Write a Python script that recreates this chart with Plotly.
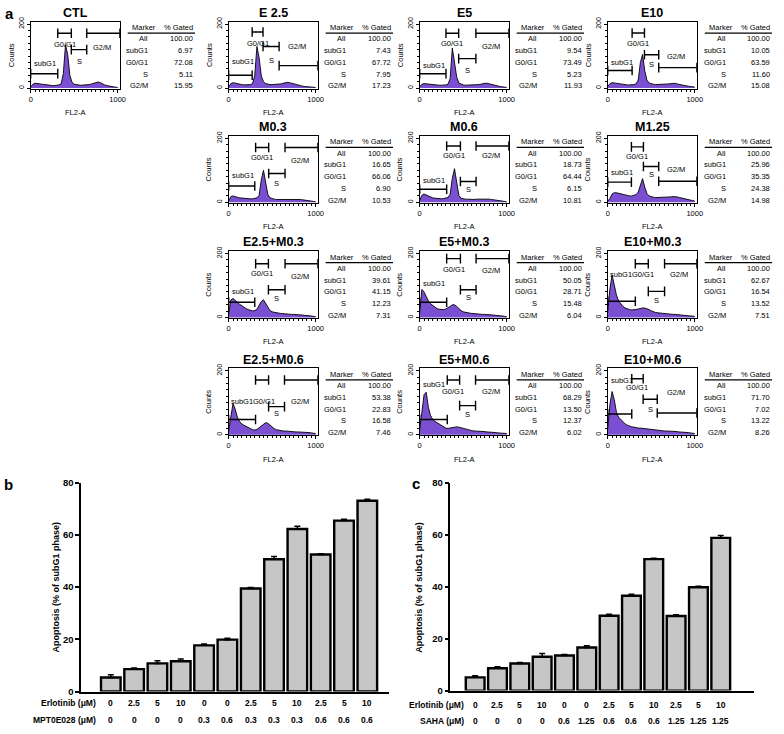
import plotly.graph_objects as go

W, H = 784, 734
FONT = "Liberation Sans, Arial, sans-serif"
PURPLE = "#7b4fd2"
GREY = "#c6c6c6"

# ---------------- panel a : cell cycle histograms ----------------
panel_names = ["CTL", "E 2.5", "E5", "E10", "M0.3", "M0.6", "M1.25",
               "E2.5+M0.3", "E5+M0.3", "E10+M0.3", "E2.5+M0.6", "E5+M0.6", "E10+M0.6"]

fl2_a = [0, 25, 50, 75, 100, 125, 150, 175, 200, 225, 250, 275, 300, 325, 350,
         375, 400, 425, 450, 475, 500, 525, 550, 575, 600, 625, 650, 675, 700,
         725, 750, 775, 800, 825, 850, 875, 900, 925, 950, 975, 1000]

counts_ctl = [4, 12, 15, 14, 12, 11, 10, 10, 9, 9, 8, 8, 9, 10, 14, 45, 135, 105, 40, 18,
              12, 10, 10, 9, 9, 10, 10, 11, 13, 15, 18, 19, 17, 13, 10, 8, 6, 5, 4, 3, 2]
counts_e25 = [4, 14, 17, 15, 13, 12, 11, 10, 10, 10, 11, 14, 40, 130, 95, 38, 20, 14, 12, 11,
              11, 11, 11, 12, 13, 15, 17, 18, 17, 15, 12, 10, 8, 7, 6, 5, 4, 4, 3, 3, 2]
counts_e5 = [4, 12, 14, 13, 12, 11, 10, 10, 9, 9, 9, 9, 10, 12, 30, 125, 85, 35, 16, 12,
             10, 9, 9, 9, 9, 10, 10, 11, 12, 14, 15, 15, 13, 11, 9, 7, 6, 5, 4, 3, 2]
counts_e10 = [5, 14, 17, 16, 14, 12, 11, 10, 10, 10, 10, 10, 11, 13, 25, 80, 105, 55, 25, 16,
              13, 12, 11, 11, 11, 11, 12, 12, 13, 14, 15, 15, 13, 11, 9, 8, 7, 6, 5, 4, 3]
counts_m03 = [5, 18, 20, 19, 16, 14, 13, 12, 11, 11, 11, 11, 12, 14, 22, 70, 100, 60, 25, 14,
              11, 10, 9, 9, 9, 9, 9, 10, 10, 11, 11, 11, 10, 9, 8, 7, 6, 5, 4, 3, 2]
counts_m06 = [6, 22, 26, 23, 19, 16, 14, 13, 12, 11, 11, 12, 13, 15, 25, 75, 105, 55, 22, 13,
              11, 10, 10, 9, 9, 9, 10, 10, 11, 12, 12, 11, 10, 9, 8, 7, 6, 5, 4, 3, 2]
counts_m125 = [4, 12, 26, 30, 30, 28, 26, 24, 22, 21, 20, 20, 21, 24, 32, 55, 74, 48, 28, 20,
               17, 16, 15, 15, 15, 15, 15, 16, 16, 17, 18, 18, 17, 15, 13, 11, 10, 8, 7, 6, 4]
counts_e25m03 = [10, 55, 60, 55, 48, 42, 37, 32, 28, 25, 22, 21, 22, 26, 38, 50, 56, 46, 32, 22,
                 18, 16, 15, 14, 13, 12, 12, 11, 11, 10, 10, 10, 9, 9, 8, 7, 7, 6, 5, 4, 3]
counts_e5m03 = [15, 88, 80, 65, 52, 43, 37, 32, 28, 26, 25, 25, 27, 30, 35, 40, 40, 35, 28, 22,
                18, 16, 15, 14, 13, 12, 12, 11, 11, 10, 10, 10, 9, 9, 8, 7, 7, 6, 5, 4, 3]
counts_e10m03 = [20, 90, 133, 100, 70, 52, 42, 35, 30, 27, 25, 24, 24, 25, 27, 29, 30, 30, 28, 25,
                 21, 18, 16, 15, 14, 13, 12, 12, 11, 11, 10, 10, 9, 9, 8, 7, 7, 6, 5, 5, 4]
counts_e25m06 = [12, 60, 98, 80, 55, 42, 34, 30, 26, 22, 18, 16, 15, 17, 22, 28, 34, 38, 36, 30,
                 24, 19, 16, 14, 13, 12, 12, 11, 11, 10, 10, 9, 9, 9, 8, 8, 7, 7, 6, 5, 4]
counts_e5m06 = [15, 80, 125, 133, 85, 60, 48, 42, 38, 33, 28, 24, 21, 20, 21, 23, 25, 25, 24, 22,
                19, 17, 15, 14, 13, 12, 12, 11, 11, 10, 10, 9, 9, 8, 8, 7, 6, 6, 5, 4, 4]
counts_e10m06 = [18, 95, 135, 110, 70, 55, 48, 40, 34, 30, 27, 25, 24, 22, 21, 21, 20, 20, 20, 19,
                 18, 16, 15, 14, 13, 13, 12, 12, 12, 11, 11, 10, 10, 9, 9, 8, 7, 7, 6, 5, 4]
hist_counts = [counts_ctl, counts_e25, counts_e5, counts_e10, counts_m03, counts_m06, counts_m125,
               counts_e25m03, counts_e5m03, counts_e10m03, counts_e25m06, counts_e5m06, counts_e10m06]

marker_names = ["All", "subG1", "G0/G1", "S", "G2/M"]
gated_pct = [
    [100.00, 6.97, 72.08, 5.11, 15.95],
    [100.00, 7.43, 67.72, 7.95, 17.23],
    [100.00, 9.54, 73.49, 5.23, 11.93],
    [100.00, 10.05, 63.59, 11.60, 15.08],
    [100.00, 16.65, 66.06, 6.90, 10.53],
    [100.00, 18.73, 64.44, 6.15, 10.81],
    [100.00, 25.96, 35.35, 24.38, 14.98],
    [100.00, 39.61, 41.15, 12.23, 7.31],
    [100.00, 50.05, 28.71, 15.48, 6.04],
    [100.00, 62.67, 16.54, 13.52, 7.51],
    [100.00, 53.38, 22.83, 16.58, 7.46],
    [100.00, 68.29, 13.50, 12.37, 6.02],
    [100.00, 71.70, 7.02, 13.22, 8.26],
]

# marker gates (start, end, level) for subG1, G0/G1, S, G2/M
gates = [
    [(0, 311, 45), (311, 467, 171), (467, 644, 120), (644, 1023, 171)],
    [(0, 270, 40), (270, 395, 175), (395, 580, 130), (580, 1023, 70)],
    [(0, 302, 45), (302, 448, 171), (448, 646, 92), (646, 1023, 171)],
    [(0, 280, 55), (280, 422, 172), (422, 586, 104), (586, 1023, 64)],
    [(0, 300, 51), (310, 460, 171), (460, 648, 90), (648, 1023, 171)],
    [(0, 310, 41), (310, 468, 176), (468, 648, 65), (648, 1023, 176)],
    [(0, 272, 63), (272, 410, 173), (410, 586, 112), (586, 1023, 66)],
    [(0, 300, 48), (310, 457, 168), (457, 648, 87), (648, 1023, 168)],
    [(0, 310, 48), (310, 468, 184), (468, 648, 87), (648, 1023, 184)],
    [(0, 317, 51), (317, 466, 168), (466, 653, 82), (653, 1023, 168)],
    [(0, 309, 48), (309, 459, 171), (459, 642, 88), (642, 1023, 171)],
    [(0, 317, 48), (317, 459, 171), (459, 642, 91), (642, 1023, 171)],
    [(0, 276, 65), (276, 407, 175), (407, 569, 111), (569, 1023, 68)],
]

# ---------------- panels b and c : apoptosis bars ----------------
cond_pos = list(range(12))
erlotinib = ["0", "2.5", "5", "10", "0", "0", "2.5", "5", "10", "2.5", "5", "10"]
mpt0e028 = ["0", "0", "0", "0", "0.3", "0.6", "0.3", "0.3", "0.3", "0.6", "0.6", "0.6"]
saha = ["0", "0", "0", "0", "0.6", "1.25", "0.6", "0.6", "0.6", "1.25", "1.25", "1.25"]
apop_b = [5.4, 8.6, 10.8, 11.6, 17.7, 19.9, 39.5, 50.7, 62.3, 52.5, 65.5, 73.1]
err_b = [1.0, 0.4, 1.0, 0.9, 0.5, 0.5, 0.4, 1.0, 1.0, 0.3, 0.5, 0.6]
apop_c = [5.1, 8.6, 10.4, 13.0, 13.5, 16.6, 28.8, 36.5, 50.6, 28.7, 39.8, 58.8]
err_c = [0.6, 0.6, 0.4, 1.3, 0.4, 0.7, 0.6, 0.6, 0.3, 0.5, 0.4, 0.9]

# layout of the histogram grid (pixels)
panel_cell = [(0, 0), (0, 1), (0, 2), (0, 3), (1, 1), (1, 2), (1, 3),
              (2, 1), (2, 2), (2, 3), (3, 1), (3, 2), (3, 3)]
col_left = [29, 229, 422, 612]
row_top = [16, 132, 249, 368]
BOX_W, BOX_H = 90, 68
# heights of the gate labels subG1, G0/G1, S, G2/M
label_y = [
    [78, 135, 84, 126], [84, 140, 85, 130], [70, 140, 55, 130], [79, 140, 75, 100],
    [84, 140, 59, 130], [69, 146, 40, 146], [92, 143, 87, 102],
    [82, 138, 61, 128], [105, 151, 63, 148], [133, 133, 53, 133],
    [103, 103, 65, 103], [158, 135, 63, 135], [168, 148, 78, 131],
]


def px(x, y):
    return x / W, 1 - y / H


def note(x, y, s, size=7.5, xanchor="center", angle=0):
    xp, yp = px(x, y)
    return dict(x=xp, y=yp, xref="paper", yref="paper", text=s, showarrow=False,
                xanchor=xanchor, yanchor="middle", textangle=angle,
                font=dict(family=FONT, size=size, color="black"))


fig = go.Figure()
annotations = []
shapes = []
axes = {}

for k, name in enumerate(panel_names):
    n = k + 1
    xn = "x" if n == 1 else f"x{n}"
    yn = "y" if n == 1 else f"y{n}"
    r, c = panel_cell[k]
    L = col_left[c]
    T = row_top[r]
    R, B = L + BOX_W, T + BOX_H

    fig.add_trace(go.Scatter(x=fl2_a, y=hist_counts[k], mode="lines", fill="tozeroy",
                             fillcolor=PURPLE, line=dict(color="black", width=0.9),
                             xaxis=xn, yaxis=yn, hoverinfo="skip"))
    gx, gy = [], []
    for (x0, x1, lv) in gates[k]:
        gx += [x0, x1, None, x0, x0, None, x1, x1, None]
        gy += [lv, lv, None, lv - 15, lv + 15, None, lv - 15, lv + 15, None]
    fig.add_trace(go.Scatter(x=gx, y=gy, mode="lines", line=dict(color="black", width=1.4),
                             xaxis=xn, yaxis=yn, hoverinfo="skip"))

    g = gates[k]
    ly = label_y[k]
    lab_x = [15, (g[1][0] + g[1][1]) / 2, (g[2][0] + g[2][1]) / 2, (g[3][0] + g[3][1]) / 2 - 15]
    if abs(ly[0] - ly[1]) < 12:
        # subG1 and G0/G1 labels share a line: push them apart
        lab_x[0] = 5
        lab_x[1] = max(lab_x[1], 405)
    for j, lab in enumerate(["subG1", "G0/G1", "S", "G2/M"]):
        annotations.append(dict(x=lab_x[j], y=ly[j], xref=xn, yref=yn, text=lab, showarrow=False,
                                xanchor="left" if j == 0 else "center", yanchor="middle",
                                font=dict(family=FONT, size=7.5, color="black")))

    axes["xaxis" if n == 1 else f"xaxis{n}"] = dict(
        domain=[L / W, R / W], anchor=yn, range=[0, 1024], tick0=0, dtick=1000,
        ticks="outside", ticklen=3, tickcolor="black", showline=True, mirror=True,
        linecolor="black", linewidth=1, showgrid=False, zeroline=False,
        tickfont=dict(family=FONT, size=7.5, color="black"),
        minor=dict(dtick=50, tick0=0, ticks="outside", ticklen=2, tickcolor="black"))
    axes["yaxis" if n == 1 else f"yaxis{n}"] = dict(
        domain=[1 - B / H, 1 - T / H], anchor=xn, range=[-2, 207], tick0=0, dtick=200,
        ticks="outside", ticklen=3, tickcolor="black", tickangle=-90, showline=True,
        mirror=True, linecolor="black", linewidth=1, showgrid=False, zeroline=False,
        tickfont=dict(family=FONT, size=7, color="black"),
        minor=dict(dtick=20, tick0=0, ticks="outside", ticklen=2, tickcolor="black"))

    annotations.append(note((L + R) / 2, T - 9, f"<b>{name}</b>", size=12.5))
    annotations.append(note(L - 20, (T + B) / 2, "Counts", size=7.5, angle=-90))
    annotations.append(note((L + R) / 2, B + 24, "FL2-A", size=7.5))

    # gated table
    lt = R + 8
    annotations.append(note(lt + 16, T + 6, "Marker", size=7.5))
    annotations.append(note(lt + 68, T + 6, "% Gated", size=7.5, xanchor="right"))
    shapes.append(dict(type="line", xref="paper", yref="paper", x0=lt / W, x1=(lt + 68) / W,
                       y0=1 - (T + 11.5) / H, y1=1 - (T + 11.5) / H,
                       line=dict(color="black", width=1.2)))
    for i, m in enumerate(marker_names):
        yy = T + 17.5 + 11.9 * i
        annotations.append(note(lt + 23, yy, m, size=7.5, xanchor="right"))
        annotations.append(note(lt + 68, yy, f"{gated_pct[k][i]:.2f}", size=7.5, xanchor="right"))

annotations.append(note(8, 8, "<b>a</b>", size=15))

# bar panels
bar_panels = [
    (14, apop_b, err_b, mpt0e028, "MPT0E028 (μM)", 80, 391, 484, 696, [-1.27, 11.93], 55, 708, 725, "b", 7, 486),
    (15, apop_c, err_c, saha, "SAHA (μM)", 453, 760, 484, 695, [-1.11, 12.5], 421, 710, 726, "c", 418, 485),
]
for (n, vals, errs, second, second_name, x0, x1, yt, yb, xr, ytx, row1, row2, letter, lx, lyy) in bar_panels:
    xn, yn = f"x{n}", f"y{n}"
    fig.add_trace(go.Bar(x=cond_pos, y=vals, width=0.84,
                         marker=dict(color=GREY, line=dict(color="black", width=2.4)),
                         error_y=dict(type="data", array=errs, arrayminus=[0] * 12, symmetric=False,
                                      color="black", thickness=1.5, width=3),
                         xaxis=xn, yaxis=yn, hoverinfo="skip"))
    axes[f"xaxis{n}"] = dict(domain=[x0 / W, x1 / W], anchor=yn, range=xr, showline=True,
                             linecolor="black", linewidth=1.5, showticklabels=False, ticks="",
                             showgrid=False, zeroline=False)
    axes[f"yaxis{n}"] = dict(domain=[1 - yb / H, 1 - yt / H], anchor=xn, range=[0, 80], dtick=20,
                             ticks="outside", ticklen=4, tickwidth=1.5, tickcolor="black",
                             showline=True, linecolor="black", linewidth=1.5, showgrid=False,
                             zeroline=False,
                             tickfont=dict(family=FONT, size=9.5, color="black", weight="bold"))
    annotations.append(note(ytx, 590, "<b>Apoptosis (% of subG1 phase)</b>", size=9, angle=-90))
    annotations.append(note(lx, lyy, f"<b>{letter}</b>", size=15))
    annotations.append(note(x0 + 17 if n == 14 else x0 + 16, row1, "<b>Erlotinib (μM)</b>", size=8.5, xanchor="right"))
    annotations.append(note(x0 + 17 if n == 14 else x0 + 16, row2, f"<b>{second_name}</b>", size=8.5, xanchor="right"))
    for i in cond_pos:
        annotations.append(dict(x=i, y=1 - row1 / H, xref=xn, yref="paper", text=f"<b>{erlotinib[i]}</b>",
                                showarrow=False, xanchor="center", yanchor="middle",
                                font=dict(family=FONT, size=8.5, color="black")))
        annotations.append(dict(x=i, y=1 - row2 / H, xref=xn, yref="paper", text=f"<b>{second[i]}</b>",
                                showarrow=False, xanchor="center", yanchor="middle",
                                font=dict(family=FONT, size=8.5, color="black")))

fig.update_layout(width=W, height=H, margin=dict(l=0, r=0, t=0, b=0), showlegend=False,
                  paper_bgcolor="white", plot_bgcolor="white",
                  annotations=annotations, shapes=shapes, **axes)

fig.write_html("out.html", config={"displayModeBar": False},
               post_script="document.body.style.margin='0';document.body.style.overflow='hidden';")
